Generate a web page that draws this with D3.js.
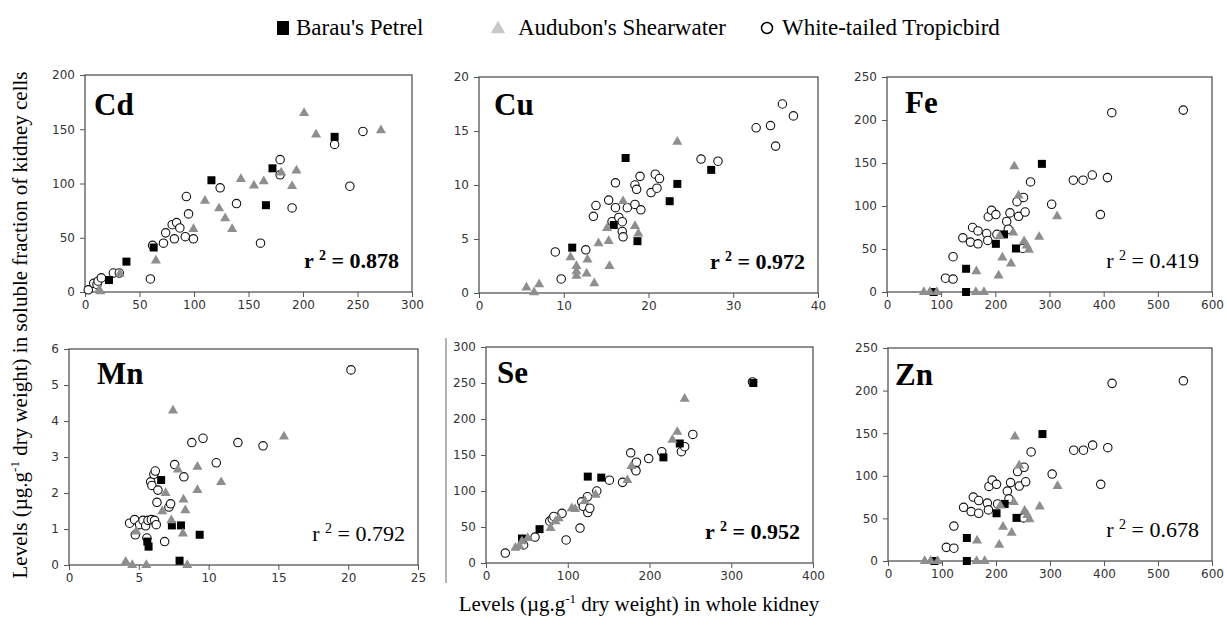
<!DOCTYPE html>
<html><head><meta charset="utf-8">
<script src="https://cdn.jsdelivr.net/npm/d3@7"></script>
<style>
body{margin:0;background:#fff}
svg{display:block}
.tick text{font-family:"DejaVu Sans",sans-serif;font-size:12px;fill:#333}
.tick line{stroke:#555}
</style>
</head><body>
<svg id="c" width="1227" height="625"></svg>
<script>
// ---------- data ----------
const seriesNames = ["Barau's Petrel", "Audubon's Shearwater", "White-tailed Tropicbird"];
const panelNames = ["Cd", "Cu", "Fe", "Mn", "Se", "Zn"];
const r2Values = ["0.878", "0.972", "0.419", "0.792", "0.952", "0.678"];
const r2Bold = [true, true, false, false, true, false];

const cdXTicks = [0, 50, 100, 150, 200, 250, 300], cdYTicks = [0, 50, 100, 150, 200];
const cuXTicks = [0, 10, 20, 30, 40], cuYTicks = [0, 5, 10, 15, 20];
const feXTicks = [0, 100, 200, 300, 400, 500, 600], feYTicks = [0, 50, 100, 150, 200, 250];
const mnXTicks = [0, 5, 10, 15, 20, 25], mnYTicks = [0, 1, 2, 3, 4, 5, 6];
const seXTicks = [0, 100, 200, 300, 400], seYTicks = [0, 50, 100, 150, 200, 250, 300];
const znXTicks = [0, 100, 200, 300, 400, 500, 600], znYTicks = [0, 50, 100, 150, 200, 250];

const cdPetrel = [[22,11],[38,28],[63,41],[116,103],[166,80],[172,114],[229,143]];
const cdShearwater = [[13,2],[14,0.5],[32,17],[65,29],[99.5,58],[110,84],[123,77],[128.6,68],[135,58],[143,104],[155,98],[164,102],[180,110],[190,97.5],[194,112],[201,165],[212,145],[271.5,149]];
const cdTropicbird = [[3,2],[8,8],[11,7],[12,10],[15,13],[26,17.5],[31.5,17.5],[60,12],[62,43],[72,45],[74,54.5],[80,62],[84,64],[87,59],[82,49],[92,51],[93,88],[95,72],[99.5,49],[124,96],[139,81.5],[161,45],[179,122],[179,108],[190,77.5],[229,136],[243,97.5],[255,148]];

const cuPetrel = [[11,4.2],[15.9,6.3],[17.3,12.5],[18.7,4.8],[22.5,8.5],[23.4,10.1],[27.4,11.4]];
const cuShearwater = [[5.6,0.5],[6.5,0.06],[7.1,0.8],[10.8,3.3],[11.5,2.5],[11.5,2.0],[11.5,1.6],[12.7,1.8],[12.8,3.1],[13.6,0.9],[14.1,4.6],[15.1,6.0],[15.3,4.8],[15.4,2.5],[17.0,8.5],[18.4,6.2],[18.8,5.5],[23.4,14.0]];
const cuTropicbird = [[9.0,3.8],[9.7,1.3],[12.6,4.0],[13.5,7.1],[13.8,8.1],[15.3,8.6],[15.7,6.6],[16.1,10.2],[16.1,7.9],[16.5,7.0],[16.9,6.6],[16.9,5.7],[17.0,5.2],[17.5,7.9],[18.4,8.2],[18.4,10.0],[18.6,9.6],[19.0,10.8],[19.1,7.7],[20.3,9.3],[20.8,11.0],[21.0,9.7],[21.3,10.6],[26.2,12.4],[28.2,12.2],[32.7,15.3],[34.4,15.5],[35.0,13.6],[35.8,17.5],[37.1,16.4]];

const fePetrel = [[86,0],[146,0],[146,27],[201,56],[216,67],[238,50.6],[286,149]];
const feShearwater = [[68,0],[79,0],[92,0],[164,0],[179,0],[165,24],[206,19],[208,65],[213,40],[229,33],[233,69],[235,146],[243,112],[253,59],[258,54],[262,49],[281,64],[314,88]];
const feTropicbird = [[108,16],[122,15],[122,41],[140,63],[154,58],[158,75],[168,71],[168,56],[184,68],[186,60],[187,87.5],[193,95],[201,90],[203,67],[221,82],[224,73],[227,92],[240,105],[243,88],[251,50.6],[252,110],[255,93],[265,128],[304,102],[344,130],[362,130],[379,136],[394,90],[407,133],[415,208.5],[547,211.5]];

const mnPetrel = [[5.61,0.65],[5.7,0.51],[6.6,2.36],[7.37,1.10],[7.92,0.12],[8.02,1.10],[9.36,0.84]];
const mnShearwater = [[4.06,0.09],[4.53,0],[5.54,0],[8.47,0],[4.82,0.93],[6.68,1.49],[6.92,2.0],[7.33,1.24],[7.45,4.29],[7.8,2.65],[8.16,0.87],[8.2,1.82],[8.33,1.52],[9.2,2.73],[9.2,2.08],[10.9,2.3],[15.4,3.57]];
const mnTropicbird = [[4.34,1.16],[4.70,1.26],[4.75,0.84],[5.06,1.12],[5.30,1.24],[5.49,1.09],[5.58,0.75],[5.66,1.24],[5.85,2.31],[5.9,1.26],[5.94,2.21],[6.08,2.52],[6.13,1.24],[6.18,2.61],[6.25,1.12],[6.3,1.74],[6.37,2.08],[6.85,0.65],[7.16,1.61],[7.28,1.7],[7.57,2.79],[8.23,2.45],[8.8,3.40],[9.6,3.52],[10.55,2.84],[12.1,3.40],[13.9,3.31],[20.2,5.42]];

const sePetrel = [[44,34],[65.5,47],[124.5,120],[141,118.6],[217,146.7],[237,166],[327,250]];
const seShearwater = [[36,21],[41,23],[44,30],[51,34.6],[79,48.5],[85,58],[89,62],[105,76],[109,75],[121,86],[134,94.6],[173,115],[178,134.7],[228,171],[234,182],[243,228]];
const seTropicbird = [[23.6,13.8],[46,25],[60,36],[78,58],[81,61],[83,64.6],[93,69],[98,32],[115,48.5],[117,85],[119,78.5],[124,92],[124.5,70],[127,76],[135.5,100],[151,115],[167,112],[177,153],[182,132],[183.5,128],[184,140],[199,145],[215,154.6],[239,154.6],[243,161.5],[253,178.6],[326,251.5]];

// Zn panel shows the same scatter as Fe in the reference
const znPetrel = fePetrel;
const znShearwater = feShearwater;
const znTropicbird = feTropicbird;

// ---------- layout (kept separate from data) ----------
const panels = [
  {name:0, xT:cdXTicks, yT:cdYTicks, pts:[cdTropicbird, cdPetrel, cdShearwater], box:{L:85,R:412,T:75,B:292}, lab:[94,115]},
  {name:1, xT:cuXTicks, yT:cuYTicks, pts:[cuTropicbird, cuPetrel, cuShearwater], box:{L:479,R:818,T:77,B:293}, lab:[494,115]},
  {name:2, xT:feXTicks, yT:feYTicks, pts:[feTropicbird, fePetrel, feShearwater], box:{L:887,R:1212,T:77,B:292}, lab:[905,113]},
  {name:3, xT:mnXTicks, yT:mnYTicks, pts:[mnTropicbird, mnPetrel, mnShearwater], box:{L:69,R:418,T:349,B:565}, lab:[97,384]},
  {name:4, xT:seXTicks, yT:seYTicks, pts:[seTropicbird, sePetrel, seShearwater], box:{L:486,R:813,T:347,B:563}, lab:[497,383]},
  {name:5, xT:znXTicks, yT:znYTicks, pts:[znTropicbird, znPetrel, znShearwater], box:{L:888,R:1212,T:348,B:561}, lab:[895,385]}
];

const svg = d3.select("#c");
const serif = "'Liberation Serif','Times New Roman',serif";

const symSquare = d3.symbol().type(d3.symbolSquare).size(64);
const symTri = d3.symbol().type(d3.symbolTriangle).size(44);
const symCircle = d3.symbol().type(d3.symbolCircle).size(56);
const styles = [
  {sym:symCircle, fill:"#fff", stroke:"#111", sw:1.1},
  {sym:symSquare, fill:"#000", stroke:"none", sw:0},
  {sym:symTri, fill:"#8e8e8e", stroke:"none", sw:0}
];

// scan edge line near Se panel
svg.append("line").attr("x1",446).attr("x2",446).attr("y1",338).attr("y2",583)
  .attr("stroke","#666").attr("stroke-width",1);

panels.forEach(p => {
  const b = p.box;
  const x = d3.scaleLinear().domain([p.xT[0], p.xT[p.xT.length-1]]).range([b.L, b.R]);
  const y = d3.scaleLinear().domain([p.yT[0], p.yT[p.yT.length-1]]).range([b.B, b.T]);
  const g = svg.append("g");

  g.append("g").attr("transform",`translate(0,${b.B})`)
    .call(d3.axisBottom(x).tickValues(p.xT).tickSize(5).tickSizeOuter(0).tickPadding(3).tickFormat(d3.format("d")))
    .call(a => a.select(".domain").remove());
  g.append("g").attr("transform",`translate(${b.L},0)`)
    .call(d3.axisLeft(y).tickValues(p.yT).tickSize(5).tickSizeOuter(0).tickPadding(5).tickFormat(d3.format("d")))
    .call(a => a.select(".domain").remove());

  g.append("rect").attr("x",b.L).attr("y",b.T).attr("width",b.R-b.L).attr("height",b.B-b.T)
    .attr("fill","none").attr("stroke","#555").attr("stroke-width",1.3);

  p.pts.forEach((arr, i) => {
    const st = styles[i];
    g.append("g").selectAll("path").data(arr).join("path")
      .attr("d", st.sym)
      .attr("transform", d => `translate(${x(d[0])},${y(d[1])})`)
      .attr("fill", st.fill).attr("stroke", st.stroke).attr("stroke-width", st.sw);
  });

  g.append("text").attr("x",p.lab[0]).attr("y",p.lab[1])
    .attr("font-family",serif).attr("font-weight","bold").attr("font-size",31)
    .text(panelNames[p.name]);

  const t = g.append("text").attr("x",b.R-13).attr("y",b.B-24)
    .attr("text-anchor","end").attr("font-family",serif)
    .attr("font-weight", r2Bold[p.name] ? "bold" : "normal").attr("font-size",22);
  t.append("tspan").text("r ");
  t.append("tspan").attr("font-size",14).attr("dy",-8).text("2");
  t.append("tspan").attr("dy",8).text(" = " + r2Values[p.name]);
});

// legend
const lg = svg.append("g").attr("font-family",serif).attr("font-size",23);
lg.append("rect").attr("x",277).attr("y",21).attr("width",12).attr("height",14).attr("fill","#000");
lg.append("text").attr("x",296).attr("y",35).text(seriesNames[0]);
lg.append("path").attr("d",d3.symbol().type(d3.symbolTriangle).size(90)()).attr("transform","translate(498,29)").attr("fill","#c8c8c8");
lg.append("text").attr("x",518).attr("y",35).text(seriesNames[1]);
lg.append("circle").attr("cx",767).attr("cy",28).attr("r",5.5).attr("fill","#fff").attr("stroke","#000").attr("stroke-width",1.5);
lg.append("text").attr("x",782).attr("y",35).text(seriesNames[2]);

// axis titles
const yt = svg.append("text").attr("transform","translate(27,325) rotate(-90)")
  .attr("text-anchor","middle").attr("font-family",serif).attr("font-size",21);
yt.append("tspan").text("Levels (µg.g");
yt.append("tspan").attr("font-size",13).attr("dy",-8).text("-1");
yt.append("tspan").attr("dy",8).text(" dry weight)  in soluble fraction of kidney cells");

const xt = svg.append("text").attr("x",639).attr("y",611)
  .attr("text-anchor","middle").attr("font-family",serif).attr("font-size",21);
xt.append("tspan").text("Levels (µg.g");
xt.append("tspan").attr("font-size",13).attr("dy",-8).text("-1");
xt.append("tspan").attr("dy",8).text(" dry weight) in whole kidney");
</script>
</body></html>
